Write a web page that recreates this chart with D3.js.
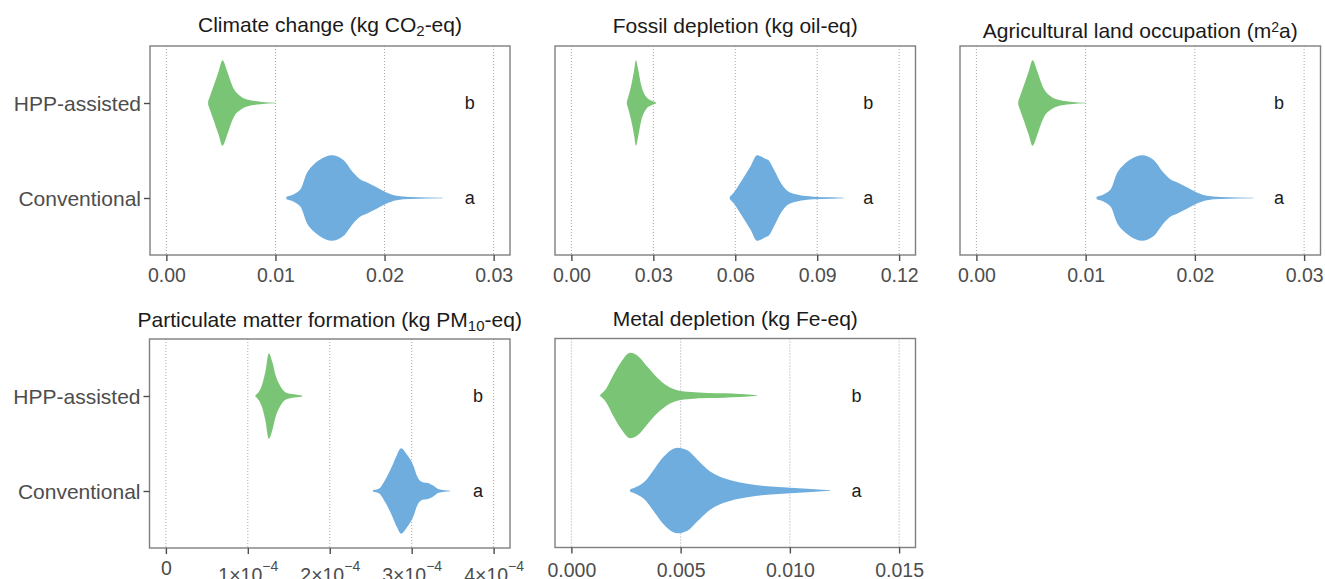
<!DOCTYPE html>
<html>
<head>
<meta charset="utf-8">
<script src="https://cdn.jsdelivr.net/npm/d3@7"></script>
<style>
  body { margin: 0; background: #fff; }
  text { font-family: "Liberation Sans", Arial, Helvetica, sans-serif; }
</style>
</head>
<body>
<script>
const width = 1325,
    height = 579;

// groups on the y axis and the significance letters
const groups = ["HPP-assisted", "Conventional"];
const letters = ["b", "a"];

// violin outlines: [value, relative density]
const climateHpp = [[0.00383, 0.04], [0.0044, 0.45], [0.0048, 0.75], [0.00514, 1.0], [0.00559, 0.73], [0.0059, 0.5],
  [0.0062, 0.32], [0.0068, 0.16], [0.0074, 0.08], [0.0086, 0.03], [0.0100, 0.008]];
const climateConv = [[0.0110, 0.03], [0.01228, 0.2], [0.01289, 0.59], [0.0135, 0.78], [0.0141, 0.9], [0.01517, 1.0],
  [0.01623, 0.89], [0.01714, 0.59], [0.01775, 0.44], [0.01836, 0.37], [0.01927, 0.25], [0.02018, 0.13],
  [0.0211, 0.05], [0.0223, 0.025], [0.02535, 0.004]];

const fossilHpp = [[0.0203, 0.03], [0.0218, 0.38], [0.0230, 0.77], [0.0236, 1.0], [0.0245, 0.77], [0.0254, 0.46],
  [0.0273, 0.15], [0.0291, 0.06], [0.0309, 0.02]];
const fossilConv = [[0.0580, 0.03], [0.0595, 0.13], [0.0619, 0.36], [0.0656, 0.74], [0.0680, 1.0], [0.0695, 0.97],
  [0.0710, 0.92], [0.0723, 0.88], [0.0741, 0.67], [0.0766, 0.36], [0.0790, 0.17], [0.0826, 0.08], [0.0887, 0.03],
  [0.0948, 0.015], [0.0997, 0.004]];

const landHpp = [[0.00383, 0.04], [0.0044, 0.45], [0.0048, 0.75], [0.00514, 1.0], [0.00559, 0.73], [0.0059, 0.5],
  [0.0062, 0.32], [0.0068, 0.16], [0.0074, 0.08], [0.0086, 0.03], [0.0100, 0.008]];
const landConv = [[0.0110, 0.03], [0.01228, 0.2], [0.01289, 0.59], [0.0135, 0.78], [0.0141, 0.9], [0.01517, 1.0],
  [0.01623, 0.89], [0.01714, 0.59], [0.01775, 0.44], [0.01836, 0.37], [0.01927, 0.25], [0.02018, 0.13],
  [0.0211, 0.05], [0.0223, 0.025], [0.02535, 0.004]];

const pmHpp = [[1.093e-4, 0.02], [1.114e-4, 0.05], [1.175e-4, 0.27], [1.215e-4, 0.58], [1.256e-4, 1.0], [1.297e-4, 0.81],
  [1.337e-4, 0.5], [1.398e-4, 0.23], [1.459e-4, 0.09], [1.520e-4, 0.05], [1.602e-4, 0.03], [1.663e-4, 0.01]];
const pmConv = [[2.528e-4, 0.02], [2.598e-4, 0.05], [2.679e-4, 0.27], [2.760e-4, 0.58], [2.821e-4, 0.85], [2.870e-4, 1.0],
  [2.943e-4, 0.85], [3.024e-4, 0.58], [3.065e-4, 0.35], [3.126e-4, 0.21], [3.207e-4, 0.18], [3.268e-4, 0.12],
  [3.329e-4, 0.04], [3.472e-4, 0.005]];

const metalHpp = [[0.00132, 0.02], [0.00158, 0.15], [0.00189, 0.45], [0.00227, 0.78], [0.00269, 1.0], [0.00303, 0.93],
  [0.00348, 0.67], [0.00394, 0.41], [0.0044, 0.22], [0.00485, 0.12], [0.00546, 0.08], [0.00622, 0.06],
  [0.00698, 0.05], [0.00774, 0.035], [0.0085, 0.008]];
const metalConv = [[0.00269, 0.03], [0.00303, 0.1], [0.00333, 0.2], [0.00379, 0.5], [0.00424, 0.8], [0.00485, 1.0],
  [0.00531, 0.94], [0.00577, 0.72], [0.00622, 0.5], [0.00668, 0.35], [0.00729, 0.24], [0.00805, 0.16],
  [0.00896, 0.1], [0.01003, 0.065], [0.01079, 0.04], [0.01185, 0.006]];

// x axis ticks
const climateTicks = [0, 0.01, 0.02, 0.03];
const fossilTicks = [0, 0.03, 0.06, 0.09, 0.12];
const landTicks = [0, 0.01, 0.02, 0.03];
const pmTicks = [0, 1e-4, 2e-4, 3e-4, 4e-4];
const metalTicks = [0, 0.005, 0.010, 0.015];

// where the letters sit on each x axis
const letterPos = [0.0278, 0.1087, 0.0277, 3.81e-4, 0.01305];

const green = "#7AC475",
    blue = "#6EADDE";

const svg = d3.select("body").append("svg")
    .attr("width", width)
    .attr("height", height);

const panels = [
  { title: [["Climate change (kg CO"], ["2", "sub"], ["-eq)"]], series: [climateHpp, climateConv], ticks: climateTicks,
    fmt: d3.format(".2f"), letterX: letterPos[0], left: 150, right: 510, top: 46, bottom: 255, titleY: 32, showY: true },
  { title: [["Fossil depletion (kg oil-eq)"]], series: [fossilHpp, fossilConv], ticks: fossilTicks,
    fmt: d3.format(".2f"), letterX: letterPos[1], left: 555, right: 915.5, top: 46, bottom: 255, titleY: 33, showY: false },
  { title: [["Agricultural land occupation (m"], ["2", "sup"], ["a)"]], series: [landHpp, landConv], ticks: landTicks,
    fmt: d3.format(".2f"), letterX: letterPos[2], left: 960, right: 1320.5, top: 46, bottom: 255, titleY: 38, showY: false },
  { title: [["Particulate matter formation (kg PM"], ["10", "sub"], ["-eq)"]], series: [pmHpp, pmConv], ticks: pmTicks,
    fmt: null, letterX: letterPos[3], left: 149.5, right: 510, top: 339, bottom: 548, titleY: 326.5, showY: true },
  { title: [["Metal depletion (kg Fe-eq)"]], series: [metalHpp, metalConv], ticks: metalTicks,
    fmt: d3.format(".3f"), letterX: letterPos[4], left: 555, right: 915.5, top: 338.5, bottom: 547.5, titleY: 326, showY: false }
];

panels.forEach(function(p) {
  var xMax = d3.max(p.ticks);
  var x = d3.scaleLinear()
      .domain([-0.05 * xMax, 1.05 * xMax])
      .range([p.left, p.right]);
  var y = d3.scalePoint()
      .domain(groups)
      .range([p.top, p.bottom])
      .padding(0.6);
  var hw = 0.45 * y.step();

  var g = svg.append("g").attr("class", "panel");

  // dotted vertical grid
  g.selectAll("line.grid")
      .data(p.ticks)
      .enter().append("line")
      .attr("class", "grid")
      .attr("x1", d => x(d)).attr("x2", d => x(d))
      .attr("y1", p.top).attr("y2", p.bottom)
      .attr("stroke", "#a6a6a6")
      .attr("stroke-width", 1)
      .attr("stroke-dasharray", "1,2");

  // violins
  groups.forEach(function(grp, i) {
    var cy = y(grp);
    var area = d3.area()
        .x(d => x(d[0]))
        .y0(d => cy - d[1] * hw)
        .y1(d => cy + d[1] * hw)
        .curve(d3.curveMonotoneX);
    g.append("path")
        .datum(p.series[i])
        .attr("d", area)
        .attr("fill", i == 0 ? green : blue);

    g.append("text")
        .attr("x", x(p.letterX))
        .attr("y", cy + 6)
        .attr("text-anchor", "middle")
        .attr("font-size", 18)
        .attr("fill", "#1a1a1a")
        .text(letters[i]);
  });

  // panel border
  g.append("rect")
      .attr("x", p.left).attr("y", p.top)
      .attr("width", p.right - p.left).attr("height", p.bottom - p.top)
      .attr("fill", "none")
      .attr("stroke", "#7f7f7f")
      .attr("stroke-width", 1.4);

  // x axis
  var xAxis = d3.axisBottom(x).tickValues(p.ticks).tickSize(6);
  if (p.fmt) xAxis.tickFormat(p.fmt);
  var xg = g.append("g")
      .attr("transform", "translate(0," + p.bottom + ")")
      .call(xAxis);
  xg.select(".domain").remove();
  xg.selectAll(".tick line").attr("stroke", "#4d4d4d").attr("stroke-width", 1.4);
  xg.selectAll(".tick text")
      .attr("fill", "#4d4d4d")
      .attr("font-size", 19.5)
      .attr("font-family", null)
      .attr("dy", null)
      .attr("y", p.top > 300 ? 29 : 27);

  if (!p.fmt) {
    // scientific labels like 1×10^-4
    xg.selectAll(".tick text").each(function(d) {
      var t = d3.select(this);
      t.text(null);
      if (d == 0) {
        t.attr("y", 27).text("0");
        return;
      }
      var m = Math.round(d / 1e-4);
      t.attr("y", 34);
      t.append("tspan").text(m + "×10");
      t.append("tspan").attr("dy", -11).attr("font-size", 14).text("−4");
    });
  }

  // y axis on the left column only
  if (p.showY) {
    var yg = g.append("g")
        .attr("transform", "translate(" + p.left + ",0)")
        .call(d3.axisLeft(y).tickSize(6).tickPadding(3));
    yg.select(".domain").remove();
    yg.selectAll(".tick line").attr("stroke", "#4d4d4d").attr("stroke-width", 1.4);
    yg.selectAll(".tick text")
        .attr("fill", "#4d4d4d")
        .attr("font-size", 21)
        .attr("font-family", null)
        .attr("dy", "0.36em");
  }

  // title with sub/superscripts
  var title = g.append("text")
      .attr("x", (p.left + p.right) / 2)
      .attr("y", p.titleY)
      .attr("text-anchor", "middle")
      .attr("font-size", 21)
      .attr("fill", "#1a1a1a");
  p.title.forEach(function(part) {
    var ts = title.append("tspan").text(part[0]);
    if (part[1] == "sub") ts.attr("font-size", 15).attr("baseline-shift", "-25%");
    if (part[1] == "sup") ts.attr("font-size", 14).attr("baseline-shift", "40%");
  });
});
</script>
</body>
</html>
